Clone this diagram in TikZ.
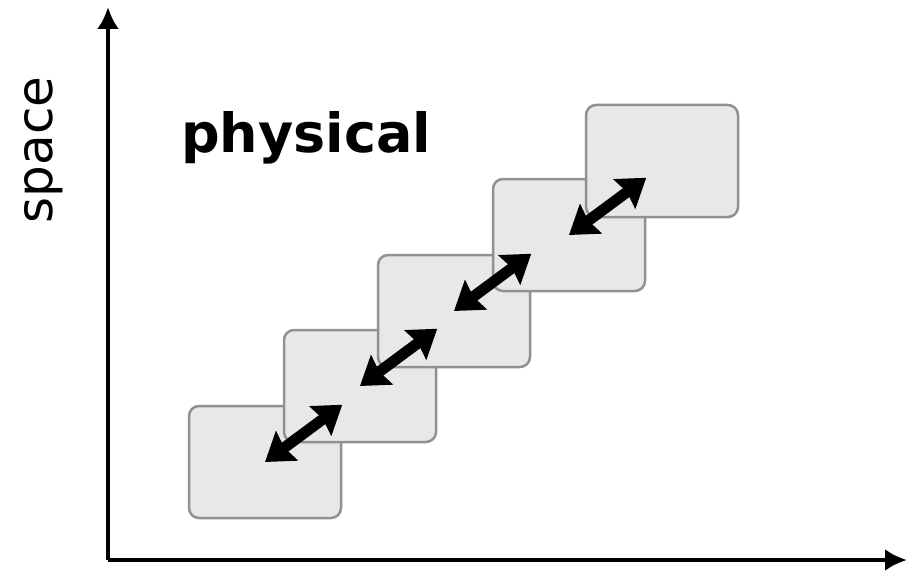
\documentclass[tikz,border=0pt]{standalone}
\usepackage{fontspec}
\setmainfont{DejaVu Sans}
\usetikzlibrary{positioning,arrows.meta}
\definecolor{colorbox}  {RGB}{232,232,232}
\definecolor{colorline} {RGB}{145,145,145}

\begin{document}
\begin{tikzpicture}[
    x=1pt, y=-1pt,
    tile/.style={draw=colorline,fill=colorbox,line width=2.5pt,rounded corners=10pt,
        minimum width=152pt,minimum height=112pt,inner sep=0pt},
    link/.style={{Stealth[length=27pt,width=36pt,inset=3pt]}-{Stealth[length=27pt,width=36pt,inset=3pt]},line width=11pt},
    axisline/.style={-{Latex[length=22pt,width=22pt]},line width=4.5pt},
    title/.style={font={\fontsize{54}{60}\selectfont\bfseries}},
    axistext/.style={font={\fontsize{50}{60}\selectfont},rotate=90},
]
    \useasboundingbox (0,0) rectangle (909,572);

    % axes
    \coordinate (origin) at (108,560);
    \coordinate (ytop) at (108,7);
    \coordinate (xend) at (907,560);
    \draw[axisline] (origin) -- (ytop);
    \draw[axisline] (origin) -- (xend);
    \node[axistext,anchor=base] (space) at (52,150) {space};
    \node[title,anchor=base] (phys) at (306,153) {physical};

    % steps
    \node[tile] (b1) at (265,462) {};
    \node[tile] (b2) at (360,386) {};
    \node[tile] (b3) at (454,311) {};
    \node[tile] (b4) at (569,235) {};
    \node[tile] (b5) at (662,161) {};

    \foreach \i in {1,...,4}
        \draw[link] (b\i.center) -- (b\i.north east);

\end{tikzpicture}
\end{document}
